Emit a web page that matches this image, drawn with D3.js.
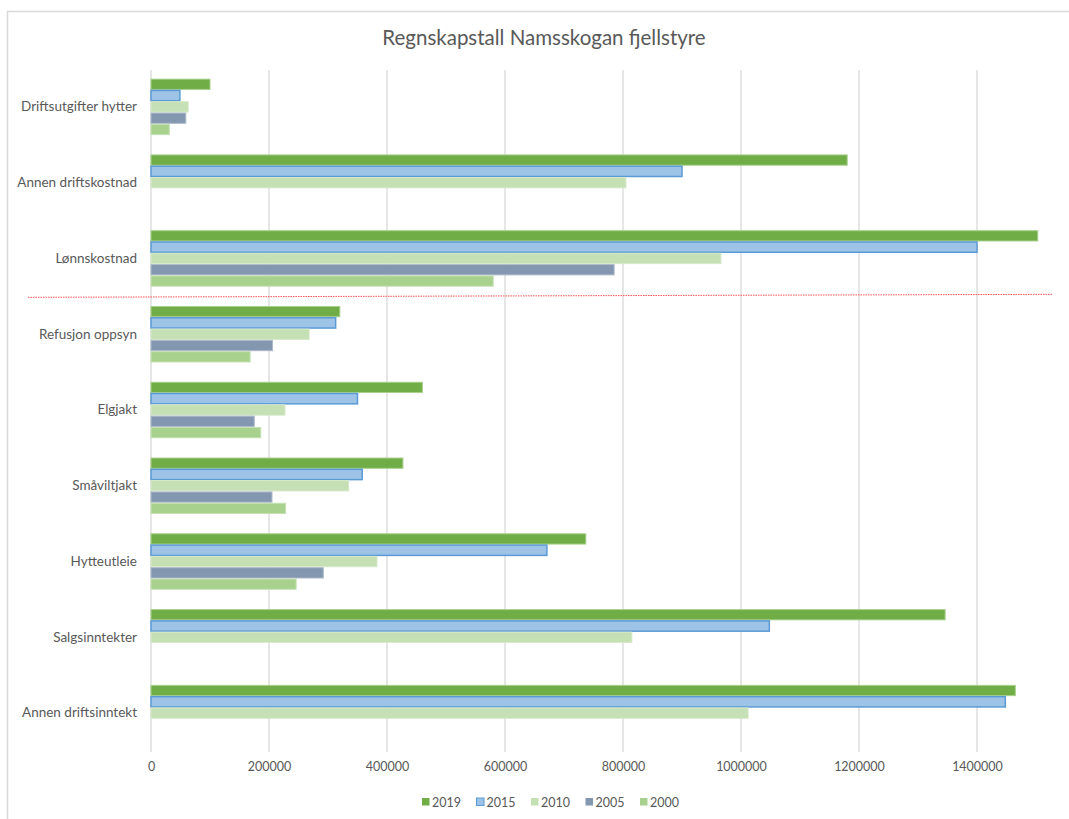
<!DOCTYPE html>
<html>
<head>
<meta charset="utf-8">
<script src="https://cdn.jsdelivr.net/npm/d3@7"></script>
<style>
  body { margin: 0; background: #fff; }
  svg { font-family: Lato, "Open Sans", sans-serif; }
</style>
</head>
<body>
<svg width="1069" height="819"></svg>
<script>
const categories = [
  "Driftsutgifter hytter",
  "Annen driftskostnad",
  "Lønnskostnad",
  "Refusjon oppsyn",
  "Elgjakt",
  "Småviltjakt",
  "Hytteutleie",
  "Salgsinntekter",
  "Annen driftsinntekt"
];
const years = ["2019", "2015", "2010", "2005", "2000"];
const v2019 = [100000, 1180000, 1503000, 320000, 460000, 427000, 737000, 1346000, 1465000];
const v2015 = [49000, 900000, 1400000, 313000, 350000, 358000, 671000, 1048000, 1448000];
const v2010 = [63000, 805000, 966000, 268000, 227000, 335000, 383000, 815000, 1012000];
const v2005 = [59000, null, 785000, 206000, 175000, 205000, 292000, null, null];
const v2000 = [31000, null, 580000, 168000, 186000, 228000, 246000, null, null];
const xTicks = [0, 200000, 400000, 600000, 800000, 1000000, 1200000, 1400000];

const seriesValues = { "2019": v2019, "2015": v2015, "2010": v2010, "2005": v2005, "2000": v2000 };
const fills = { "2019": "#70ad47", "2015": "#9dc3e6", "2010": "#c5e0b4", "2005": "#8497b0", "2000": "#a9d18e" };
const strokes = { "2019": "#a9d18e", "2015": "#5b9bd5", "2010": "#d5e8c8", "2005": "#adb9ca", "2000": "#c5e0b4" };

const svg = d3.select("svg");

// chart frame (right and bottom edges run off the picture)
svg.append("rect")
  .attr("x", 7.5).attr("y", 11.5)
  .attr("width", 1080).attr("height", 830)
  .attr("fill", "#fff").attr("stroke", "#d9d9d9").attr("stroke-width", 1.5);

svg.append("text")
  .attr("x", 544).attr("y", 45)
  .attr("text-anchor", "middle")
  .attr("font-size", 20.5)
  .attr("fill", "#595959")
  .text("Regnskapstall Namsskogan fjellstyre");

const x = d3.scaleLinear().domain([0, 1500000]).range([151, 151 + 1500000 * 118 / 200000]);
const y = d3.scaleBand().domain(categories).range([69, 751]).paddingInner(0.254).paddingOuter(0.127);
const ySub = d3.scaleBand().domain(years).range([0, y.bandwidth()]);

// gridlines
svg.append("g")
  .selectAll("line")
  .data(xTicks)
  .join("line")
  .attr("x1", d => x(d)).attr("x2", d => x(d))
  .attr("y1", 70).attr("y2", 752)
  .attr("stroke", "#d9d9d9").attr("stroke-width", 1.3);

// bars
const bars = [];
categories.forEach((c, i) => {
  years.forEach(yr => {
    const v = seriesValues[yr][i];
    if (v != null) bars.push({ cat: c, year: yr, value: v });
  });
});

svg.append("g")
  .selectAll("rect")
  .data(bars)
  .join("rect")
  .attr("x", x(0))
  .attr("y", d => y(d.cat) + ySub(d.year) + 0.5)
  .attr("width", d => x(d.value) - x(0))
  .attr("height", ySub.bandwidth() - 1)
  .attr("fill", d => fills[d.year])
  .attr("stroke", d => strokes[d.year])
  .attr("stroke-width", d => d.year === "2015" ? 1.5 : 1);

// y axis labels
const yAxis = svg.append("g")
  .attr("transform", `translate(${x(0) - 14},0)`)
  .call(d3.axisLeft(y).tickSize(0).tickPadding(0));
yAxis.select(".domain").remove();
yAxis.selectAll("text")
  .attr("font-family", "Lato, 'Open Sans', sans-serif")
  .attr("font-size", 13.5)
  .attr("fill", "#595959");

// x axis labels
const xAxis = svg.append("g")
  .attr("transform", "translate(0,762)")
  .call(d3.axisBottom(x).tickValues(xTicks).tickSize(0).tickPadding(0).tickFormat(d3.format("d")));
xAxis.select(".domain").remove();
xAxis.selectAll("text")
  .attr("font-family", "Lato, 'Open Sans', sans-serif")
  .attr("font-size", 12.5)
  .attr("fill", "#595959");

// hand-drawn red dotted divider between costs and income
const yDiv = y(categories[3]) - (y.step() - y.bandwidth()) / 2;
svg.append("line")
  .attr("x1", 28).attr("y1", yDiv + 1)
  .attr("x2", 1052).attr("y2", yDiv - 2)
  .attr("stroke", "#ff5050")
  .attr("stroke-width", 1)
  .attr("stroke-dasharray", "1.5,1");

// legend
const legend = svg.append("g")
  .attr("transform", "translate(422,802)")
  .selectAll("g")
  .data(years)
  .join("g")
  .attr("transform", (d, i) => `translate(${i * 54.5},0)`);
legend.append("rect")
  .attr("x", 0).attr("y", -4)
  .attr("width", 7.5).attr("height", 7.5)
  .attr("fill", d => fills[d])
  .attr("stroke", d => d === "2015" ? "#5b9bd5" : "none");
legend.append("text")
  .attr("x", 10).attr("y", 4.5)
  .attr("font-size", 12.5)
  .attr("fill", "#595959")
  .text(d => d);
</script>
</body>
</html>
